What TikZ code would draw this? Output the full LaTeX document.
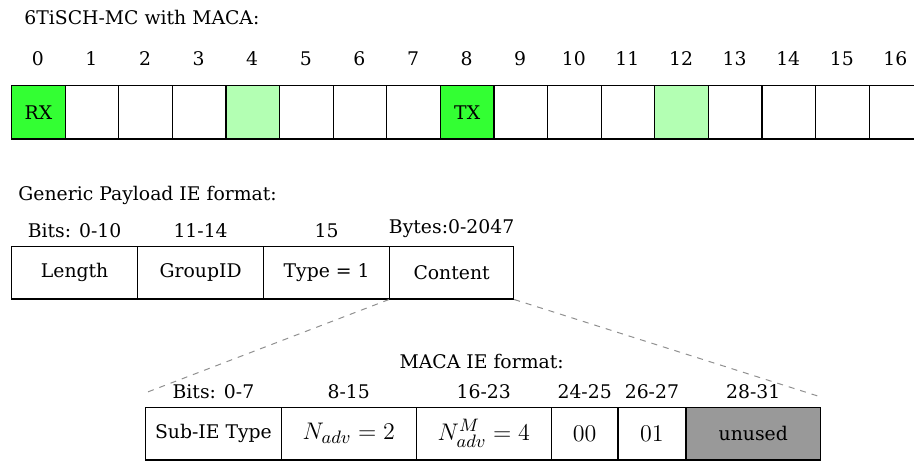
\documentclass[tikz,border=0pt]{standalone}
\usepackage[no-math]{fontspec}
\setmainfont{DejaVu Serif}
\definecolor{slotgreen}{HTML}{33FF33}
\definecolor{slotlight}{HTML}{B3FFB3}
\definecolor{unusedgray}{HTML}{999999}
\definecolor{zoomgray}{HTML}{909090}
\begin{document}
\begin{tikzpicture}[x=0.5pt,y=-0.5pt,
  font=\fontsize{9.4pt}{12pt}\selectfont,
  cell/.style={draw=black, line width=0.6pt, minimum width=26.8pt,
    minimum height=26.65pt, inner sep=0pt, anchor=north west},
  field/.style={draw=black, line width=0.6pt, minimum height=26.3pt,
    inner sep=0pt, anchor=north west},
  mathfield/.style={field, font=\fontsize{12.8pt}{15pt}\selectfont},
  lbl/.style={inner sep=0pt, anchor=south},
  caption/.style={inner sep=0pt, anchor=west},
  zoomline/.style={draw=zoomgray, line width=0.5pt, dashed}]
\useasboundingbox (0,0) rectangle (914,461);
\clip (0,0) rectangle (914,461);

% --- slotframe of the minimal configuration ---
\node[caption] (title1) at (24,17) {6TiSCH-MC with MACA:};
\foreach \i/\f/\t in {0/slotgreen/RX, 1/white/, 2/white/, 3/white/,
    4/slotlight/, 5/white/, 6/white/, 7/white/, 8/slotgreen/TX,
    9/white/, 10/white/, 11/white/, 12/slotlight/, 13/white/,
    14/white/, 15/white/, 16/white/}{
  \node[cell, fill=\f] (c\i) at ({11+53.6*\i},85) {\t};
  \node[inner sep=0pt] (n\i) at ({37.8+53.6*\i},59) {\i};
}

% --- generic payload IE ---
\node[caption] (title2) at (18,195) {Generic Payload IE format:};
\node[field, minimum width=63pt] (len)  at (11,245.7)  {Length};
\node[field, minimum width=63pt] (gid)  at (137,245.7) {GroupID};
\node[field, minimum width=63pt] (type) at (263,245.7) {Type = 1};
\node[field, minimum width=62pt] (content) at (389,245.7) {Content};
\node[lbl] (lb1) at ([yshift=3.7pt]len.north)  {Bits: 0-10};
\node[lbl] (lb2) at ([yshift=3.7pt]gid.north)  {11-14};
\node[lbl] (lb3) at ([yshift=3.7pt]type.north) {15};
\node[lbl] (lb4) at ([yshift=3.7pt]content.north) {Bytes:0-2047};

% --- MACA sub-IE ---
\node[inner sep=0pt] (title3) at (481.7,361.7) {MACA IE format:};
\node[field, minimum width=67.85pt] (sub) at (145,406.7) {Sub-IE Type};
\node[mathfield, minimum width=67.5pt] (nadv) at (280.7,406.7) {$N_{adv}=2$};
\node[mathfield, minimum width=67.5pt] (nmadv) at (415.7,406.7) {$N^{M}_{adv}=4$};
\node[mathfield, minimum width=33.35pt] (b00) at (550.7,406.7) {$00$};
\node[mathfield, minimum width=34pt] (b01) at (617.3,406.7) {$01$};
\node[field, minimum width=67.35pt, fill=unusedgray] (unused) at (685.3,406.7) {unused};
\node[lbl] (mb1) at ([yshift=4pt]sub.north)    {Bits: 0-7};
\node[lbl] (mb2) at ([yshift=4pt]nadv.north)   {8-15};
\node[lbl] (mb3) at ([yshift=4pt]nmadv.north)  {16-23};
\node[lbl] (mb4) at ([yshift=4pt]b00.north)    {24-25};
\node[lbl] (mb5) at ([yshift=4pt]b01.north)    {26-27};
\node[lbl] (mb6) at ([yshift=4pt]unused.north) {28-31};

% --- zoom lines from the content field ---
\coordinate (zl) at (145,393);
\coordinate (zr) at (820,396.7);
\draw[zoomline] (content.south west) -- (zl);
\draw[zoomline] (content.south east) -- (zr);
\end{tikzpicture}
\end{document}
